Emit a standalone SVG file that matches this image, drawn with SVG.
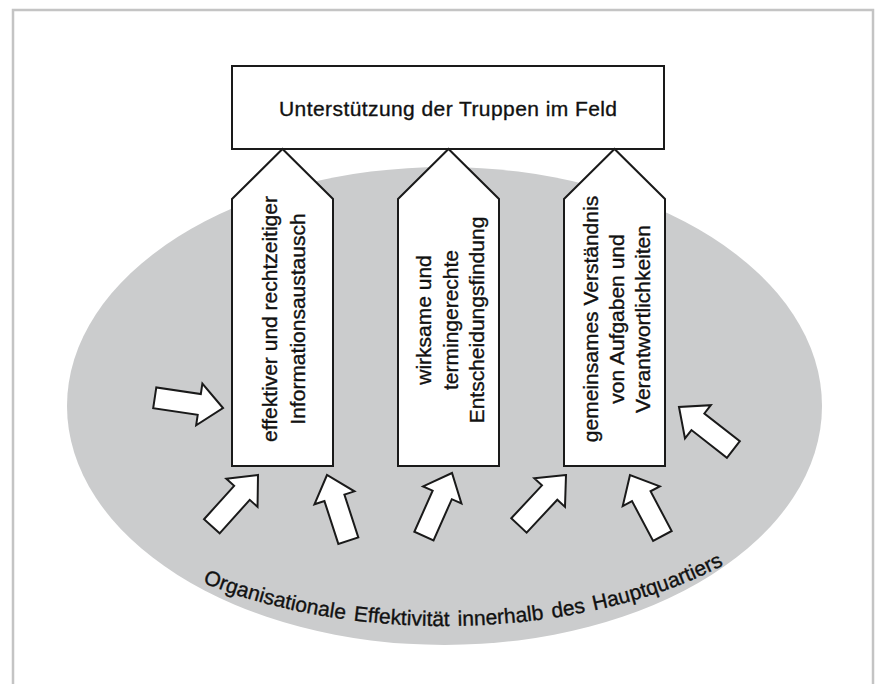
<svg xmlns="http://www.w3.org/2000/svg" width="876" height="684" viewBox="0 0 876 684">
  <style>
    .lbl { font-family: "Liberation Sans", Arial, Helvetica, sans-serif; font-size: 21px; fill: #111111; stroke: #111111; stroke-width: 0.35; }
    .node { fill: #ffffff; stroke: #1a1a1a; stroke-width: 2; stroke-linejoin: miter; }
    .blk { fill: #ffffff; stroke: #1a1a1a; stroke-width: 2; stroke-linejoin: miter; }
  </style>
  <defs>
    <polygon id="blockArrow" points="0,0 -24,-21 -24,-10.5 -69,-10.5 -69,10.5 -24,10.5 -24,21"/>
    <path id="arcPath" d="M 39 406 A 405 220 0 0 0 849 406" fill="none"/>
  </defs>

  <rect x="0" y="0" width="876" height="684" fill="#ffffff"/>
  <rect x="13" y="10" width="860" height="700" fill="none" stroke="#c4c4c4" stroke-width="2.5"/>

  <g id="ellipse-hq">
    <ellipse cx="444.5" cy="406" rx="377.5" ry="239" fill="#cbcccd"/>
    <text class="lbl" font-size="21" word-spacing="2.5"><textPath href="#arcPath" startOffset="255">Organisationale Effektivität innerhalb des Hauptquartiers</textPath></text>
  </g>

  <g id="node-top">
    <rect class="node" x="232" y="66" width="432" height="83" stroke-width="2.5"/>
    <text class="lbl" x="448" y="115.5" font-size="21.5" text-anchor="middle" textLength="338" lengthAdjust="spacing">Unterstützung der Truppen im Feld</text>
  </g>

  <g id="node-info">
    <polygon class="node" points="232,199 282.5,149 333,199 333,466 232,466"/>
    <g transform="translate(0,319)">
      <text class="lbl" transform="translate(277,0) rotate(-90)" x="0" y="0" text-anchor="middle">effektiver und rechtzeitiger</text>
      <text class="lbl" transform="translate(304.5,0) rotate(-90)" x="0" y="0" text-anchor="middle">Informationsaustausch</text>
    </g>
  </g>

  <g id="node-entscheidung">
    <polygon class="node" points="398,199 448.5,149 499,199 499,466 398,466"/>
    <g transform="translate(0,320)">
      <text class="lbl" transform="translate(431,0) rotate(-90)" x="0" y="0" text-anchor="middle">wirksame und</text>
      <text class="lbl" transform="translate(458,0) rotate(-90)" x="0" y="0" text-anchor="middle">termingerechte</text>
      <text class="lbl" transform="translate(484,0) rotate(-90)" x="0" y="0" text-anchor="middle">Entscheidungsfindung</text>
    </g>
  </g>

  <g id="node-verstaendnis">
    <polygon class="node" points="564,199 614.5,149 665,199 665,466 564,466"/>
    <g transform="translate(0,319)">
      <text class="lbl" transform="translate(598,0) rotate(-90)" x="0" y="0" text-anchor="middle">gemeinsames Verständnis</text>
      <text class="lbl" transform="translate(624,0) rotate(-90)" x="0" y="0" text-anchor="middle">von Aufgaben und</text>
      <text class="lbl" transform="translate(650,0) rotate(-90)" x="0" y="0" text-anchor="middle">Verantwortlichkeiten</text>
    </g>
  </g>

  <g id="connectors">
    <use href="#blockArrow" class="blk" transform="translate(223,408) rotate(8.5)"/>
    <use href="#blockArrow" class="blk" transform="translate(258,475) rotate(-48)"/>
    <use href="#blockArrow" class="blk" transform="translate(327,475) rotate(-108)"/>
    <use href="#blockArrow" class="blk" transform="translate(452,473) rotate(-66)"/>
    <use href="#blockArrow" class="blk" transform="translate(566,475) rotate(-47)"/>
    <use href="#blockArrow" class="blk" transform="translate(630,475) rotate(-118)"/>
    <use href="#blockArrow" class="blk" transform="translate(679,407) rotate(-142)"/>
  </g>
</svg>
